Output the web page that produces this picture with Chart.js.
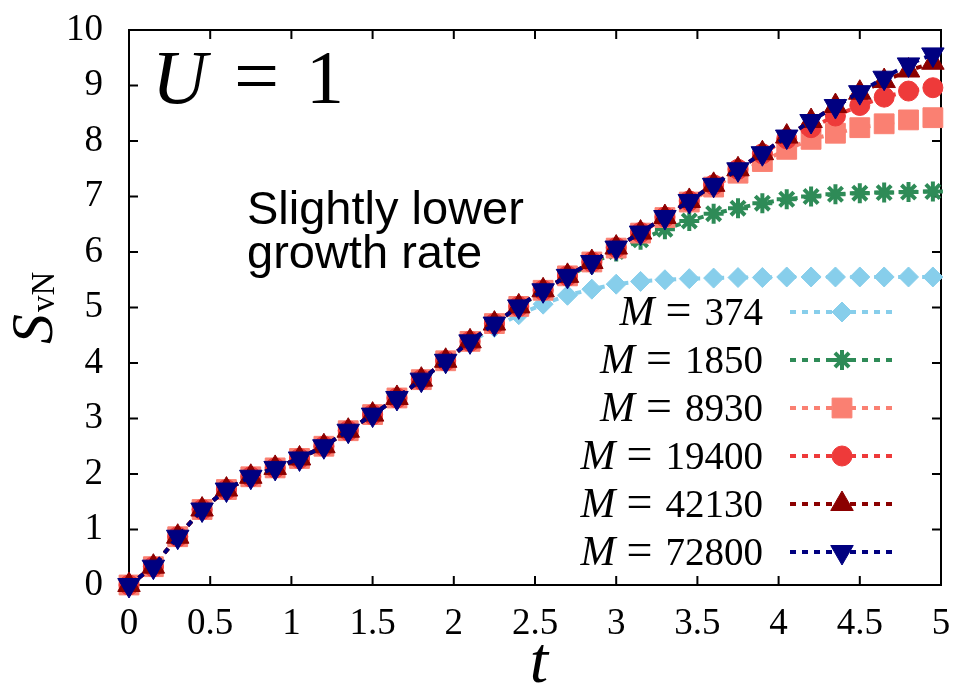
<!DOCTYPE html>
<html><head><meta charset="utf-8">
<script src="https://cdn.jsdelivr.net/npm/chart.js@4.4.1/dist/chart.umd.min.js"></script>
<style>html,body{margin:0;padding:0;background:#fff;}#wrap{width:956px;height:688px;}</style>
</head><body><div id="wrap"><canvas id="c" width="956" height="688"></canvas></div>
<script>
const tValues = [0,0.15,0.3,0.45,0.6,0.75,0.9,1.05,1.2,1.35,1.5,1.65,1.8,1.95,2.1,2.25,2.4,2.55,2.7,2.85,3.0,3.15,3.3,3.45,3.6,3.75,3.9,4.05,4.2,4.35,4.5,4.65,4.8,4.95];
const seriesLabels = ['374','1850','8930','19400','42130','72800'];
const m374   = [0,0.33,0.87,1.36,1.72,1.95,2.11,2.28,2.50,2.78,3.07,3.37,3.70,4.03,4.36,4.64,4.87,5.06,5.22,5.33,5.42,5.47,5.50,5.52,5.53,5.54,5.54,5.55,5.55,5.55,5.55,5.55,5.55,5.55];
const m1850  = [0,0.33,0.87,1.36,1.72,1.95,2.11,2.28,2.50,2.78,3.07,3.37,3.70,4.04,4.38,4.70,5.01,5.30,5.55,5.79,6.01,6.22,6.41,6.56,6.69,6.79,6.88,6.95,7.00,7.04,7.06,7.07,7.08,7.09];
const m8930  = [0,0.33,0.87,1.36,1.72,1.95,2.11,2.28,2.50,2.78,3.07,3.37,3.70,4.04,4.39,4.71,5.02,5.31,5.57,5.82,6.07,6.34,6.62,6.90,7.17,7.42,7.63,7.85,8.03,8.14,8.24,8.31,8.38,8.42];
const m19400 = [0,0.33,0.87,1.36,1.72,1.95,2.11,2.28,2.50,2.78,3.07,3.37,3.70,4.04,4.39,4.71,5.02,5.31,5.57,5.82,6.08,6.35,6.63,6.92,7.21,7.49,7.77,8.04,8.24,8.45,8.64,8.79,8.90,8.96];
const m42130 = [0,0.33,0.87,1.36,1.72,1.95,2.11,2.28,2.50,2.78,3.07,3.37,3.70,4.04,4.39,4.71,5.02,5.31,5.57,5.82,6.08,6.35,6.63,6.92,7.21,7.49,7.78,8.08,8.36,8.63,8.87,9.08,9.27,9.41];
const m72800 = [0,0.33,0.87,1.36,1.72,1.95,2.11,2.28,2.50,2.78,3.07,3.37,3.70,4.04,4.39,4.71,5.02,5.31,5.57,5.82,6.08,6.35,6.63,6.92,7.21,7.49,7.78,8.08,8.36,8.63,8.88,9.14,9.38,9.56];
const xTickStep = 0.5;
const yTickStep = 1;

const seriesValues = [m374, m1850, m8930, m19400, m42130, m72800];
const styles = [
  {color:'#87ceeb', point:'rectRot', r:10, rot:0, pbw:1},
  {color:'#2e8b57', point:'star', r:10, rot:0, pbw:4},
  {color:'#fa8072', point:'rect', r:14, rot:0, pbw:1},
  {color:'#ee3a3a', point:'circle', r:10, rot:0, pbw:1},
  {color:'#8b0000', point:'triangle', r:13, rot:0, pbw:1},
  {color:'#000080', point:'triangle', r:13, rot:180, pbw:1}
];

const datasets = seriesValues.map((vals, i) => ({
  label: 'M = ' + seriesLabels[i],
  data: tValues.map((t, k) => ({x: t, y: vals[k]})),
  borderColor: styles[i].color,
  backgroundColor: styles[i].color,
  pointBackgroundColor: styles[i].color,
  pointBorderColor: styles[i].color,
  pointStyle: styles[i].point,
  pointRadius: styles[i].r,
  pointRotation: styles[i].rot,
  pointBorderWidth: styles[i].pbw,
  borderWidth: 4,
  borderDash: [6, 6],
  tension: 0,
  clip: false,
  order: seriesValues.length - i
}));

function drawMarker(ctx, st, x, y) {
  ctx.save();
  ctx.fillStyle = st.color; ctx.strokeStyle = st.color; ctx.lineWidth = st.pbw;
  ctx.setLineDash([]);
  if (Chart.helpers && Chart.helpers.drawPoint) {
    Chart.helpers.drawPoint(ctx, {pointStyle: st.point, radius: st.r, rotation: st.rot, borderWidth: st.pbw}, x, y);
  }
  ctx.restore();
}

const framePlugin = {
  id: 'frame',
  beforeDatasetsDraw(chart) {
    const {ctx, chartArea: a, scales: {x, y}} = chart;
    ctx.save();
    ctx.strokeStyle = '#000'; ctx.lineWidth = 2;
    ctx.strokeRect(a.left, a.top, a.right - a.left, a.bottom - a.top);
    const L = 9;
    ctx.beginPath();
    x.ticks.forEach(tk => {
      const px = x.getPixelForValue(tk.value);
      ctx.moveTo(px, a.bottom); ctx.lineTo(px, a.bottom - L);
      ctx.moveTo(px, a.top); ctx.lineTo(px, a.top + L);
    });
    y.ticks.forEach(tk => {
      const py = y.getPixelForValue(tk.value);
      ctx.moveTo(a.left, py); ctx.lineTo(a.left + L, py);
      ctx.moveTo(a.right, py); ctx.lineTo(a.right - L, py);
    });
    ctx.stroke();
    ctx.restore();
  },
  afterDatasetsDraw(chart) {
    const {ctx} = chart;
    ctx.save();
    ctx.fillStyle = '#000';
    chart.data.datasets.forEach((ds, i) => {
      const st = styles[i];
      const cy = 312 + i * 48;
      ctx.save();
      ctx.strokeStyle = st.color; ctx.lineWidth = 4; ctx.setLineDash([6, 6]);
      ctx.beginPath(); ctx.moveTo(790, cy); ctx.lineTo(896, cy); ctx.stroke();
      ctx.restore();
      drawMarker(ctx, st, 842, cy);
      const base = cy + 13;
      ctx.textBaseline = 'alphabetic';
      ctx.textAlign = 'right';
      ctx.font = '39px "Liberation Serif"';
      const num = seriesLabels[i];
      ctx.fillText(num, 763, base);
      let xr = 763 - ctx.measureText(num).width - 13;
      ctx.font = '46px "Liberation Serif"';
      ctx.fillText('=', xr, base);
      xr -= ctx.measureText('=').width + 11;
      ctx.font = 'italic 42px "Liberation Serif"';
      ctx.fillText('M', xr, base);
    });
    ctx.textAlign = 'left';
    ctx.font = 'italic 76px "Liberation Serif"';
    ctx.fillText('U', 152, 103);
    ctx.font = '80px "Liberation Serif"';
    ctx.fillText('=', 234, 103);
    ctx.font = '76px "Liberation Serif"';
    ctx.fillText('1', 306, 103);
    ctx.font = '47px "Liberation Sans"';
    ctx.fillText('Slightly lower', 247, 224);
    ctx.fillText('growth rate', 247, 268);
    ctx.textAlign = 'center';
    ctx.font = 'italic 66px "Liberation Serif"';
    ctx.fillText('t', 539, 682);
    ctx.save();
    ctx.translate(52, 300);
    ctx.rotate(-Math.PI / 2);
    ctx.textAlign = 'left';
    ctx.font = 'italic 60px "Liberation Serif"';
    ctx.fillText('S', -44, 0);
    const sw = ctx.measureText('S').width;
    ctx.font = '33px "Liberation Serif"';
    ctx.fillText('vN', -44 + sw + 2, 2);
    ctx.restore();
    ctx.restore();
  }
};

const fmt = v => String(Math.round(v * 10) / 10);

new Chart(document.getElementById('c'), {
  type: 'line',
  data: {datasets},
  options: {
    responsive: false,
    animation: false,
    devicePixelRatio: 1,
    layout: {padding: {top: 30, right: 13, left: 0, bottom: 0}},
    plugins: {legend: {display: false}, tooltip: {enabled: false}},
    elements: {line: {tension: 0}},
    scales: {
      x: {
        type: 'linear', min: 0, max: 5,
        ticks: {stepSize: xTickStep, color: '#000', padding: 17, font: {family: 'Liberation Serif', size: 37}, maxRotation: 0, autoSkip: false, callback: fmt},
        grid: {drawOnChartArea: false, drawTicks: false},
        border: {display: false},
        afterFit(s) { s.height = 103; s.paddingLeft = 0; s.paddingRight = 0; }
      },
      y: {
        type: 'linear', min: 0, max: 10,
        ticks: {stepSize: yTickStep, color: '#000', padding: 26, font: {family: 'Liberation Serif', size: 37}, callback: fmt},
        grid: {drawOnChartArea: false, drawTicks: false},
        border: {display: false},
        afterFit(s) { s.width = 129; s.paddingTop = 0; s.paddingBottom = 0; }
      }
    }
  },
  plugins: [framePlugin]
});
</script></body></html>
